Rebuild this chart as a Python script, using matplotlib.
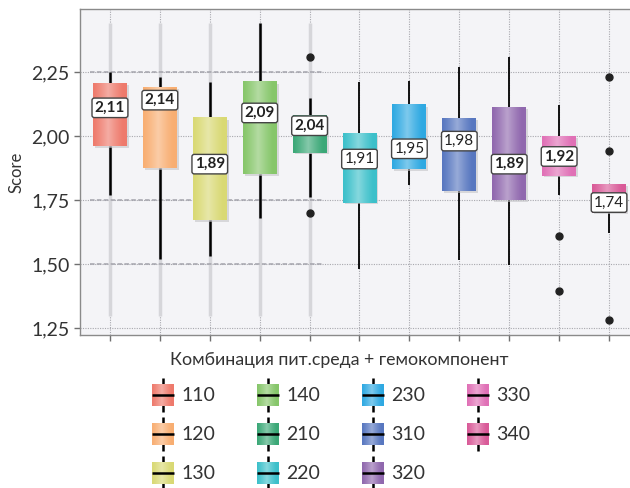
import numpy as np
import matplotlib.pyplot as plt
from matplotlib.colors import to_rgb
from matplotlib.patches import Rectangle

plt.rcParams['font.family'] = ['Lato', 'DejaVu Sans']

# --------------------------------------------------------------------------- #
# Data: score distribution per medium + blood component combination
# --------------------------------------------------------------------------- #
groups = ["110", "120", "130", "140", "210", "220", "230", "310", "320", "330", "340"]
colors = ["#ee7a6c", "#f8ae72", "#d9d974", "#86c66a", "#3ba877", "#3cc0ca",
          "#2fa9e2", "#5877c0", "#9068ae", "#e070b6", "#d95a98"]
medians = [2.11, 2.14, 1.89, 2.09, 2.04, 1.91, 1.95, 1.98, 1.89, 1.92, 1.74]
q1 = [1.96, 1.875, 1.67, 1.85, 1.935, 1.74, 1.87, 1.785, 1.75, 1.845, 1.70]
q3 = [2.205, 2.19, 2.07, 2.21, 2.08, 2.01, 2.12, 2.07, 2.11, 2.00, 1.81]
whisk_lo = [1.77, 1.52, 1.53, 1.68, 1.76, 1.48, 1.81, 1.515, 1.495, 1.77, 1.62]
whisk_hi = [2.25, 2.23, 2.21, 2.44, 2.15, 2.21, 2.215, 2.27, 2.31, 2.12, 1.81]
outliers = [[], [], [], [], [2.31, 1.70], [], [], [], [], [1.61, 1.395],
            [2.23, 1.94, 1.28]]
bold_labels = [True, True, True, True, True, False, False, False, True, True, False]

BOX_W = 0.68


def gradient(color, n=64):
    """Horizontal shading: darker at the edges, lighter near the middle."""
    base = np.array(to_rgb(color))
    t = np.linspace(0, 1, n)
    k = 0.38 * np.clip(1 - np.abs(t - 0.45) / 0.45, 0, 1) ** 1.2
    rgb = base[None, :] * (1 - k[:, None]) + k[:, None]
    return rgb[None, :, :]


fig = plt.figure(figsize=(6.3, 4.88), dpi=100)
ax = fig.add_axes([80 / 630, 1 - 335 / 488, 550 / 630, 326 / 488])
ax.set_facecolor("#f4f4f7")

pos = np.arange(len(groups))

# background grid
yt = [1.25, 1.50, 1.75, 2.00, 2.25]
ax.set_yticks(yt)
ax.set_yticklabels([f"{v:.2f}".replace(".", ",") for v in yt], fontsize=14,
                   color="#333333")
ax.set_xticks(pos)
ax.set_xticklabels([])
ax.grid(True, color="#a8a8ae", lw=0.8, ls=(0, (1, 1.2)))
ax.set_axisbelow(True)
ax.tick_params(axis="both", length=4, color="#707070", width=1)
for side in ["left", "bottom", "top"]:
    ax.spines[side].set_color("#8a8a8a")
    ax.spines[side].set_linewidth(1)
ax.spines["right"].set_visible(False)

# faint overlay strokes behind the first five groups
ax.vlines(pos[:5], 1.297, 2.44, color="#d6d6da", lw=2.5, zorder=1)
ax.hlines([2.25, 1.75, 1.50], -0.4, 4.25, color="#a4a4ac", lw=1.1,
          ls=(0, (3, 1.5)), zorder=1)

ax.set_ylabel("Score", fontsize=12, color="#333333", labelpad=5)

for i, g in enumerate(groups):
    x = pos[i]
    lw = 1.8 if i < 5 else 1.3
    ax.vlines(x, q3[i], whisk_hi[i], color="black", lw=lw, zorder=3)
    ax.vlines(x, whisk_lo[i], q1[i], color="black", lw=lw, zorder=3)
    # drop shadow
    ax.add_patch(Rectangle((x - BOX_W / 2 + 0.04, q1[i] - 0.006), BOX_W, q3[i] - q1[i],
                           fc="#c4c4c8", ec="none", alpha=0.6, zorder=3))
    ax.imshow(gradient(colors[i]), extent=[x - BOX_W / 2, x + BOX_W / 2, q1[i], q3[i]],
              aspect="auto", zorder=4, interpolation="bilinear")
    if outliers[i]:
        ax.plot([x] * len(outliers[i]), outliers[i], "o", color="#222222",
                ms=5, zorder=5)
    ax.text(x, medians[i], f"{medians[i]:.2f}".replace(".", ","),
            ha="center", va="center", fontsize=11,
            fontweight="bold" if bold_labels[i] else "normal", color="#222222",
            bbox=dict(boxstyle="round,pad=0.18,rounding_size=0.15", fc="white",
                      ec="#444444", lw=1), zorder=6)

ax.set_xlim(-0.6, 10.42)
ax.set_ylim(1.2227, 2.496)

# --------------------------------------------------------------------------- #
# Legend (drawn in pixel space below the plot)
# --------------------------------------------------------------------------- #
lg = fig.add_axes([0, 0, 1, 153 / 488])
lg.axis("off")
lg.text(339, 360, "Комбинация пит.среда + гемокомпонент", ha="center", va="center",
        fontsize=12.8, color="#333333")

col_x = [163, 268, 373, 478]
row_y = [395, 434, 473]
for i, g in enumerate(groups):
    cx = col_x[i // 3]
    cy = row_y[i % 3]
    lg.vlines(cx, cy - 17, cy + 17, color="black", lw=1.8, zorder=2)
    lg.imshow(gradient(colors[i]), extent=[cx - 11, cx + 11, cy + 11, cy - 11],
              aspect="auto", zorder=3, interpolation="bilinear")
    lg.hlines(cy, cx - 11, cx + 11, color="black", lw=1.8, zorder=4)
    lg.text(cx + 18, cy + 1, g, ha="left", va="center", fontsize=14, color="#333333")

lg.set_xlim(0, 630)
lg.set_ylim(488, 335)

fig.savefig("out.png", dpi=100)
